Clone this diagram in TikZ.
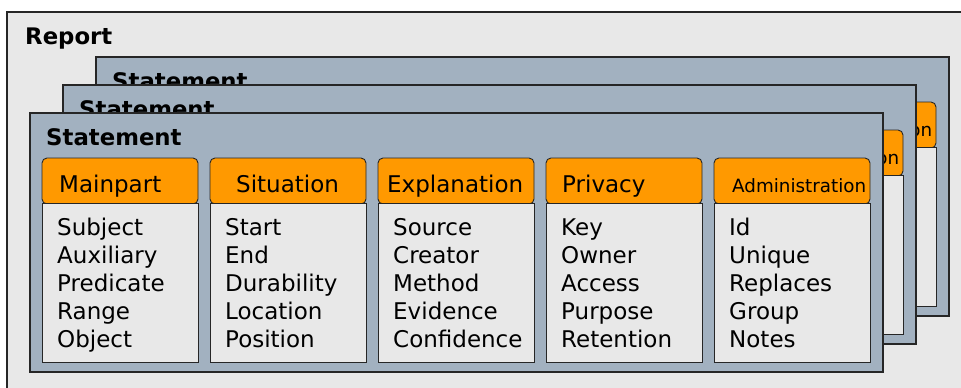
\documentclass[tikz,border=0pt]{standalone}
\usepackage{fontspec}
\setmainfont{DejaVu Sans}
\usepackage{tikz}

\definecolor{reportbg}{HTML}{E8E8E8}
\definecolor{stmtbg}{HTML}{A2B1C0}
\definecolor{headbg}{HTML}{FF9900}
\definecolor{edgecol}{HTML}{262626}

\tikzset{
  outerframe/.style={draw=edgecol, line width=1.4pt},
  headbox/.style={draw=edgecol, line width=0.9pt, fill=headbg, rounded corners=5pt},
  listbox/.style={draw=edgecol, line width=0.9pt, fill=reportbg},
  title/.style={anchor=base west, inner sep=0pt, font=\fontsize{22.8}{22.8}\selectfont\bfseries},
  entry/.style={anchor=base west, inner sep=0pt, font=\fontsize{23}{23}\selectfont}
}

\begin{document}
\begin{tikzpicture}[x=1pt,y=-1pt]
        \useasboundingbox (0,0) rectangle (961,388);
        \clip (0,0) rectangle (961,388);
        \draw[outerframe, fill=reportbg] (7,12) rectangle (975,400);
        \node[title] (report) at (25,44) {Report};

        \foreach \k in {2,1,0}{
          \begin{scope}[shift={(33*\k,-28*\k)}]
            \draw[outerframe, fill=stmtbg] (30,113) rectangle (883,372);
            \node[title] (stmt\k) at (46,145) {Statement};
            \foreach \hname/\dx/\hfs/\items [count=\j from 0] in {
                Mainpart/17/23/{Subject,Auxiliary,Predicate,Range,Object},
                Situation/26/23/{Start,End,Durability,Location,Position},
                Explanation/9/23/{Source,Creator,Method,Evidence,Confidence},
                Privacy/16/23/{Key,Owner,Access,Purpose,Retention},
                Administration/18/18.3/{Id,Unique,Replaces,Group,Notes}}{
              \draw[headbox] ({42+168*\j},158) rectangle ++(156,46);
              \draw[listbox] ({42+168*\j},203) rectangle ++(156,159);
              \ifnum\k=0
                \node[entry, font=\fontsize{\hfs}{\hfs}\selectfont] (head\k\j) at ({42+168*\j+\dx},192) {\hname};
                \foreach \entrytext [count=\r from 0] in \items{
                  \node[entry] (item\k\j\r) at ({57+168*\j},{235+28*\r}) {\entrytext};
                }
              \else\ifnum\j=4
                \node[entry, font=\fontsize{\hfs}{\hfs}\selectfont] (head\k\j) at ({42+168*\j+\dx},192) {\hname};
              \fi\fi
            }
          \end{scope}
        }
    \end{tikzpicture}
\end{document}
